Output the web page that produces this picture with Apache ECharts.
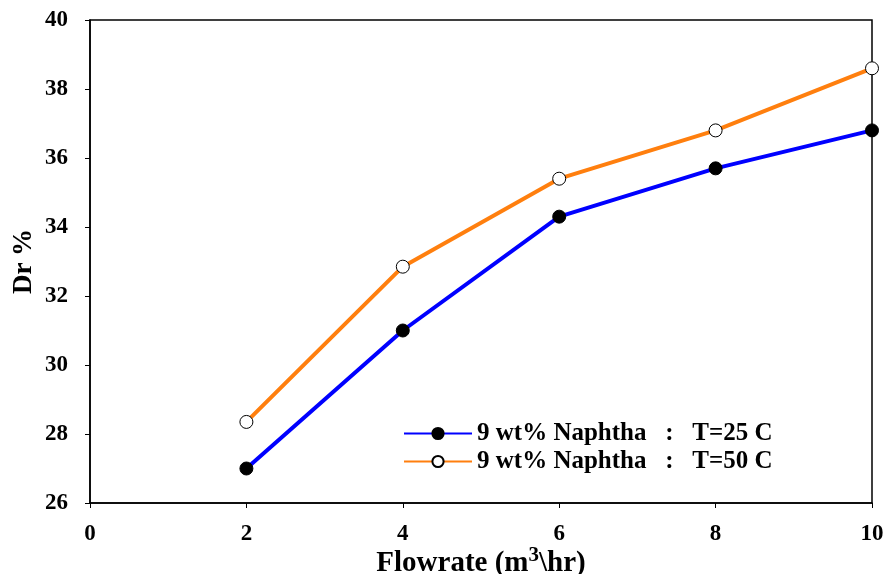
<!DOCTYPE html>
<html><head><meta charset="utf-8">
<script src="https://cdn.jsdelivr.net/npm/echarts@6/dist/echarts.min.js"></script>
<style>html,body{margin:0;padding:0;background:#fff}#c{width:885px;height:574px}</style>
</head><body><div id="c"></div>
<script>
const flowrate = [2, 4, 6, 8, 10];
const dr25 = [27.0, 31.0, 34.3, 35.7, 36.8];
const dr50 = [28.35, 32.85, 35.4, 36.8, 38.6];
const name25 = '9 wt% Naphtha   :   T=25 C';
const name50 = '9 wt% Naphtha   :   T=50 C';

const font = 'Liberation Serif';
const chart = echarts.init(document.getElementById('c'));
chart.setOption({
  backgroundColor: '#fff',
  animation: false,
  grid: {left: 90, right: 13, top: 20, bottom: 71, containLabel: false, outerBoundsMode: 'none', show: true, borderColor: '#000', borderWidth: 1.5, backgroundColor: 'transparent'},
  legend: {
    orient: 'vertical', left: 398, top: 416, itemWidth: 68, itemHeight: 14, itemGap: 3,
    textStyle: {fontFamily: font, fontWeight: 'bold', fontSize: 25, color: '#000'},
    data: [name25, name50]
  },
  xAxis: {
    type: 'value', min: 0, max: 10, interval: 2,
    name: '{a|Flowrate (m}{s|3}{a|\\hr)}', nameLocation: 'middle', nameGap: 42, nameMoveOverlap: false,
    nameTextStyle: {rich: {a: {fontFamily: font, fontWeight: 'bold', fontSize: 29, lineHeight: 32, color: '#000', verticalAlign: 'bottom'}, s: {fontFamily: font, fontWeight: 'bold', fontSize: 21, color: '#000', verticalAlign: 'top', padding: [0,0,12,0]}}},
    axisLine: {lineStyle: {color: '#000', width: 1.5}},
    axisTick: {show: true, inside: false, length: 5, lineStyle: {color: '#000'}},
    axisLabel: {fontFamily: font, fontWeight: 'bold', fontSize: 23, color: '#000', margin: 20},
    splitLine: {show: false}
  },
  yAxis: {
    type: 'value', min: 26, max: 40, interval: 2,
    name: 'Dr %', nameLocation: 'middle', nameGap: 52, nameRotate: 90, nameMoveOverlap: false,
    nameTextStyle: {fontFamily: font, fontWeight: 'bold', fontSize: 27, color: '#000'},
    axisLine: {lineStyle: {color: '#000', width: 1.5}},
    axisTick: {show: true, inside: false, length: 5, lineStyle: {color: '#000'}},
    axisLabel: {fontFamily: font, fontWeight: 'bold', fontSize: 23, color: '#000', margin: 22},
    splitLine: {show: false}
  },
  series: [
    {name: name25, type: 'line', data: flowrate.map((x, i) => [x, dr25[i]]),
     lineStyle: {color: '#0000FF', width: 4}, itemStyle: {color: '#000', borderColor: '#000', borderWidth: 1},
     symbol: 'circle', symbolSize: 13, color: '#0000FF'},
    {name: name50, type: 'line', data: flowrate.map((x, i) => [x, dr50[i]]),
     lineStyle: {color: '#FF7F0E', width: 4}, itemStyle: {color: '#fff', borderColor: '#000', borderWidth: 1},
     symbol: 'circle', symbolSize: 13, color: '#FF7F0E'}
  ]
});
</script></body></html>
